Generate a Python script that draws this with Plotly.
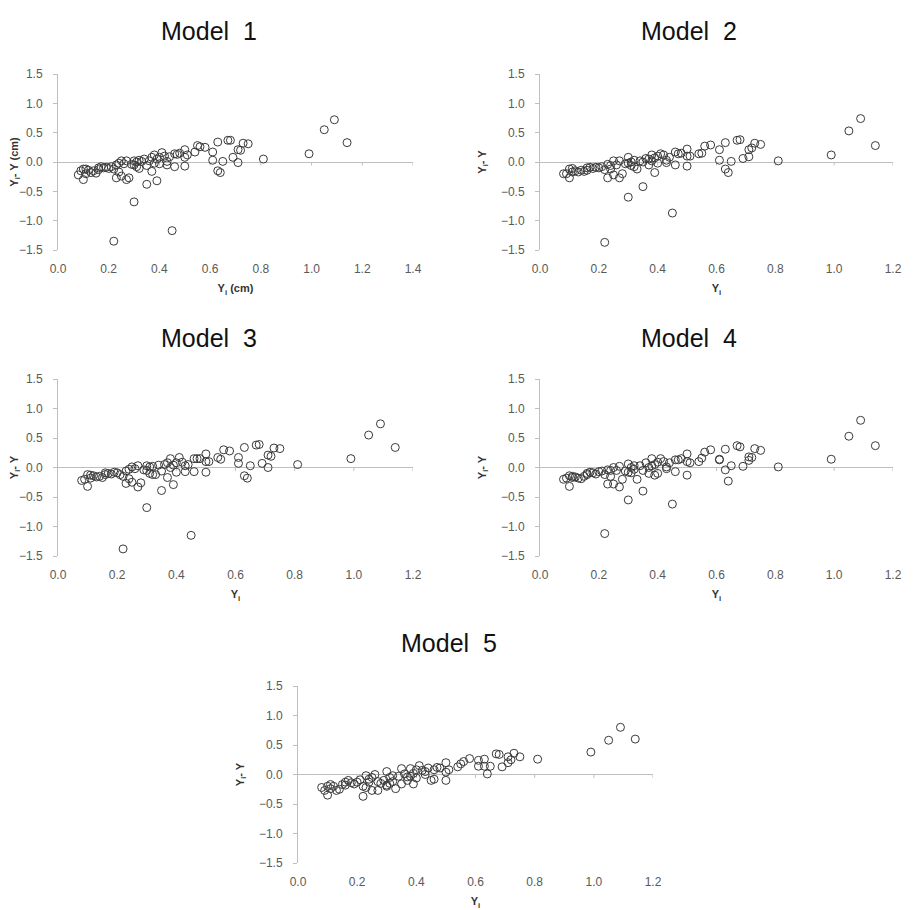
import plotly.graph_objects as go

# Yi values (shared by all models)
yi = [0.08, 0.09, 0.10, 0.10, 0.11, 0.11, 0.12, 0.13, 0.14, 0.15,
      0.16, 0.16, 0.17, 0.18, 0.19, 0.20, 0.21, 0.22, 0.22, 0.23,
      0.23, 0.24, 0.24, 0.25, 0.25, 0.26, 0.27, 0.27, 0.28, 0.29,
      0.30, 0.30, 0.30, 0.31, 0.31, 0.32, 0.32, 0.33, 0.34, 0.35,
      0.35, 0.36, 0.37, 0.37, 0.38, 0.38, 0.39, 0.39, 0.40, 0.40,
      0.41, 0.42, 0.43, 0.43, 0.44, 0.45, 0.46, 0.46, 0.47, 0.48,
      0.50, 0.50, 0.50, 0.51, 0.54, 0.55, 0.56, 0.58, 0.61, 0.61,
      0.63, 0.63, 0.64, 0.65, 0.67, 0.68, 0.69, 0.71, 0.71, 0.72,
      0.73, 0.75, 0.81, 0.99, 1.05, 1.09, 1.14]

# residuals Yi - Y for each model
m1 = [-0.22, -0.15, -0.30, -0.12, -0.20, -0.12, -0.14, -0.18, -0.15, -0.19,
      -0.10, -0.13, -0.08, -0.10, -0.09, -0.11, -0.08, -1.35, -0.12, -0.05,
      -0.27, -0.02, -0.17, 0.02, -0.24, -0.03, -0.30, 0.02, -0.27, -0.04,
      -0.68, 0.02, -0.05, 0.00, -0.08, 0.03, -0.11, 0.01, 0.05, -0.38,
      -0.06, 0.02, 0.08, -0.16, 0.12, -0.02, -0.32, 0.05, 0.08, -0.03,
      0.16, 0.10, 0.01, -0.05, 0.09, -1.17, 0.14, -0.08, 0.13, 0.15,
      0.21, 0.08, -0.07, 0.12, 0.17, 0.28, 0.26, 0.25, 0.17, 0.03,
      0.34, -0.15, -0.18, 0.01, 0.37, 0.37, 0.08, 0.21, -0.01, 0.20,
      0.32, 0.31, 0.05, 0.14, 0.55, 0.72, 0.33]
m2 = [-0.20, -0.20, -0.27, -0.12, -0.17, -0.11, -0.15, -0.17, -0.14, -0.16,
      -0.10, -0.14, -0.09, -0.11, -0.09, -0.10, -0.08, -1.37, -0.13, -0.04,
      -0.27, -0.06, -0.12, 0.02, -0.22, -0.05, -0.27, 0.02, -0.20, -0.03,
      -0.60, 0.08, -0.02, 0.00, -0.06, 0.03, -0.08, -0.12, 0.02, -0.42,
      0.00, 0.06, 0.05, -0.05, 0.12, 0.02, -0.18, 0.07, 0.10, -0.02,
      0.14, 0.12, 0.03, -0.01, 0.08, -0.87, 0.17, -0.05, 0.14, 0.15,
      0.22, 0.10, -0.07, 0.10, 0.14, 0.15, 0.27, 0.29, 0.21, 0.03,
      0.33, -0.12, -0.18, 0.01, 0.37, 0.38, 0.06, 0.21, 0.09, 0.24,
      0.32, 0.30, 0.02, 0.12, 0.53, 0.74, 0.28]
m3 = [-0.22, -0.20, -0.32, -0.12, -0.18, -0.13, -0.14, -0.16, -0.15, -0.17,
      -0.09, -0.12, -0.10, -0.11, -0.08, -0.09, -0.12, -1.38, -0.15, -0.06,
      -0.27, -0.03, -0.19, 0.01, -0.25, -0.02, -0.33, 0.03, -0.26, -0.04,
      -0.68, 0.03, -0.05, 0.01, -0.10, 0.02, -0.12, -0.12, 0.04, -0.39,
      -0.06, 0.05, 0.08, -0.17, 0.15, 0.00, -0.29, 0.04, 0.08, -0.08,
      0.17, 0.09, 0.03, -0.07, 0.05, -1.15, 0.15, -0.07, 0.15, 0.15,
      0.23, 0.10, -0.08, 0.10, 0.17, 0.14, 0.30, 0.28, 0.17, 0.07,
      0.34, -0.14, -0.18, 0.03, 0.38, 0.39, 0.07, 0.21, 0.00, 0.19,
      0.33, 0.32, 0.05, 0.15, 0.55, 0.74, 0.34]
m4 = [-0.20, -0.18, -0.32, -0.14, -0.17, -0.15, -0.16, -0.18, -0.19, -0.15,
      -0.12, -0.10, -0.08, -0.09, -0.11, -0.07, -0.06, -1.12, -0.12, -0.04,
      -0.28, -0.05, -0.15, 0.00, -0.28, -0.05, -0.33, 0.02, -0.20, -0.06,
      -0.55, 0.06, -0.08, 0.00, -0.09, 0.03, -0.03, -0.20, 0.03, -0.40,
      -0.05, 0.08, 0.00, -0.10, 0.15, 0.03, -0.13, 0.05, 0.09, -0.10,
      0.15, 0.10, 0.01, -0.02, 0.08, -0.62, 0.13, -0.07, 0.13, 0.15,
      0.23, 0.10, -0.13, 0.08, 0.10, 0.16, 0.26, 0.30, 0.14, 0.13,
      0.31, -0.04, -0.23, 0.03, 0.37, 0.35, 0.02, 0.18, 0.12, 0.17,
      0.32, 0.29, 0.01, 0.14, 0.53, 0.80, 0.37]
m5 = [-0.22, -0.27, -0.35, -0.20, -0.24, -0.17, -0.20, -0.27, -0.25, -0.17,
      -0.13, -0.18, -0.10, -0.14, -0.16, -0.13, -0.09, -0.37, -0.20, -0.02,
      -0.22, -0.08, -0.13, -0.05, -0.27, 0.00, -0.27, -0.12, -0.15, -0.10,
      -0.18, 0.05, -0.20, -0.05, -0.15, -0.02, -0.12, -0.24, -0.03, -0.16,
      0.10, 0.01, -0.04, -0.10, 0.10, -0.03, -0.16, 0.02, 0.08, -0.06,
      0.15, 0.07, 0.00, 0.05, 0.11, -0.10, 0.08, -0.08, 0.12, 0.11,
      0.20, 0.04, -0.10, 0.08, 0.13, 0.18, 0.22, 0.27, 0.24, 0.14,
      0.26, 0.14, 0.01, 0.14, 0.35, 0.34, 0.13, 0.20, 0.30, 0.25,
      0.36, 0.30, 0.26, 0.38, 0.58, 0.80, 0.60]

models = ["Model  1", "Model  2", "Model  3", "Model  4", "Model  5"]
residuals = [m1, m2, m3, m4, m5]
x_max = [1.4, 1.2, 1.2, 1.2, 1.2]
x_titles = ["Y<sub>i</sub> (cm)", "Y<sub>i</sub>", "Y<sub>i</sub>", "Y<sub>i</sub>", "Y<sub>i</sub>"]
y_titles = ["Y<sub>i</sub>- Y (cm)", "Y<sub>i</sub>- Y", "Y<sub>i</sub>- Y", "Y<sub>i</sub>- Y", "Y<sub>i</sub>- Y"]

W, H = 918, 910
OFF = 8  # page body margin of the browser
# plot areas in pixels (as seen in the page): left, right, top, bottom
boxes = [(58, 413, 74, 250), (540, 893, 74, 250),
         (58, 413, 379, 556), (540, 893, 379, 556),
         (298, 653, 686, 863)]
title_pos = [(209, 31), (689, 31), (209, 338), (689, 338), (449, 643)]

grey = "#bfbfbf"
fnt = "Liberation Sans, Arial"
tick_font = dict(family=fnt, size=12, color="#595959")

fig = go.Figure()
for i in range(5):
    n = "" if i == 0 else str(i + 1)
    # small tick marks hanging below the zero line
    tx_vals = [round(0.2 * k, 1) for k in range(1, int(round(x_max[i] / 0.2)) + 1)]
    tk_x, tk_y = [], []
    for t in tx_vals:
        tk_x += [t, t, None]
        tk_y += [0, -0.06, None]
    fig.add_trace(go.Scatter(
        x=tk_x, y=tk_y, mode="lines", xaxis="x" + n, yaxis="y" + n,
        line=dict(width=1, color=grey), showlegend=False, hoverinfo="skip"))
    fig.add_trace(go.Scatter(
        x=yi, y=residuals[i], mode="markers", xaxis="x" + n, yaxis="y" + n,
        marker=dict(symbol="circle-open", size=8, color="#3a3a3a", line=dict(width=1)),
        showlegend=False, hoverinfo="x+y"))

    l, r, t, b = [v - OFF for v in boxes[i]]
    fig.layout["xaxis" + n] = dict(
        domain=[l / W, r / W], anchor="y" + n, range=[0, x_max[i]], dtick=0.2,
        tickformat=".1f", showline=False, showgrid=False, zeroline=False,
        ticks="", ticklabelstandoff=10, tickfont=tick_font, automargin=False,
        title=dict(text="<b>" + x_titles[i] + "</b>",
                   font=dict(family=fnt, size=11, color="#333333"), standoff=9))
    fig.layout["yaxis" + n] = dict(
        domain=[1 - b / H, 1 - t / H], anchor="x" + n, range=[-1.5, 1.5], dtick=0.5,
        tickformat=".1f", showline=True, linecolor=grey, linewidth=1,
        ticks="outside", ticklen=4, tickcolor=grey, ticklabelstandoff=8,
        showgrid=False, zeroline=True, zerolinecolor=grey, zerolinewidth=1,
        tickfont=tick_font, automargin=False,
        title=dict(text="<b>" + y_titles[i] + "</b>",
                   font=dict(family=fnt, size=11, color="#333333"), standoff=12))
    px_, py_ = title_pos[i]
    fig.add_annotation(text=models[i], x=(px_ - OFF) / W, y=1 - (py_ - OFF) / H,
                       xref="paper", yref="paper",
                       xanchor="center", yanchor="middle", showarrow=False,
                       font=dict(family=fnt, size=25, color="#111111"))

fig.update_layout(width=W, height=H, margin=dict(l=0, r=0, t=0, b=0, autoexpand=False),
                  plot_bgcolor="white", paper_bgcolor="white")

fig.write_html("out.html")
